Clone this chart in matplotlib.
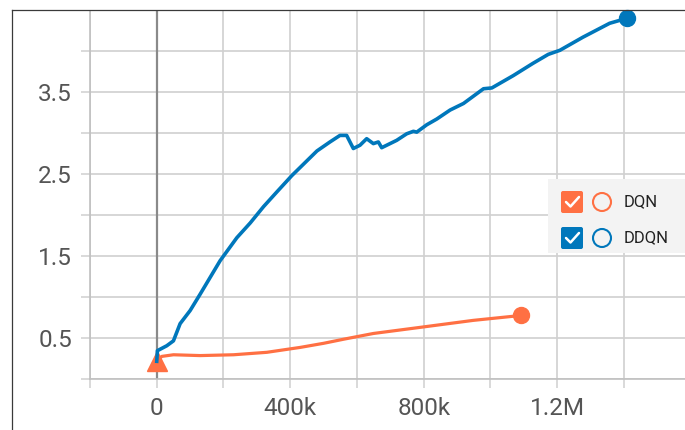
import matplotlib
matplotlib.use("Agg")
import matplotlib.pyplot as plt
import numpy as np
from matplotlib.patches import Rectangle, FancyBboxPatch, Circle

plt.rcParams['font.family'] = ['Roboto', 'DejaVu Sans']

# DDQN run (step, value)
ddqn_steps = [0, 2e3, 30e3, 50e3, 70e3, 100e3, 130e3, 190e3, 240e3, 280e3, 320e3,
              360e3, 405e3, 430e3, 480e3, 519e3, 549e3, 569e3, 589e3, 609e3, 629e3,
              649e3, 664e3, 674e3, 699e3, 719e3, 749e3, 769e3, 779e3, 809e3, 839e3,
              879e3, 919e3, 979e3, 1004e3, 1068e3, 1127e3, 1173e3, 1208e3, 1277e3,
              1357e3, 1408e3]
ddqn_vals = [0.21, 0.34, 0.40, 0.46, 0.67, 0.83, 1.03, 1.44, 1.72, 1.90, 2.10,
             2.28, 2.48, 2.58, 2.78, 2.89, 2.97, 2.97, 2.81, 2.85, 2.93,
             2.87, 2.89, 2.82, 2.87, 2.91, 2.99, 3.02, 3.01, 3.10, 3.17,
             3.28, 3.36, 3.54, 3.55, 3.70, 3.85, 3.96, 4.01, 4.17,
             4.34, 4.40]

# DQN run (step, value)
dqn_steps = [0, 15e3, 50e3, 130e3, 230e3, 330e3, 430e3, 500e3, 560e3, 649e3,
             799e3, 948e3, 1091e3]
dqn_vals = [0.21, 0.27, 0.29, 0.28, 0.29, 0.32, 0.38, 0.43, 0.48, 0.55,
            0.63, 0.71, 0.77]

x_ticks = [-200e3, 0, 200e3, 400e3, 600e3, 800e3, 1000e3, 1200e3, 1400e3]
x_labels = ["", "0", "", "400k", "", "800k", "", "1.2M", ""]
y_ticks = [0, 0.5, 1.0, 1.5, 2.0, 2.5, 3.0, 3.5, 4.0]
y_labels = ["", "0.5", "", "1.5", "", "2.5", "", "3.5", ""]

series_names = ["DQN", "DDQN"]
ORANGE = '#ff7043'
BLUE = '#0077bb'
GRID = '#d0d0d0'

W, H = 685, 430
fig = plt.figure(figsize=(W / 100, H / 100), dpi=100)
fig.patch.set_facecolor('white')

ax = fig.add_axes([90 / W, (H - 378.5) / H, (W - 90) / W, (378.5 - 11) / H])
ax.set_xlim(-200e3, 1582.8e3)
ax.set_ylim(0, 4.49)

ax.set_xticks(x_ticks)
ax.set_xticklabels(x_labels)
ax.set_yticks(y_ticks)
ax.set_yticklabels(y_labels)
ax.grid(True, color=GRID, linewidth=1.2, zorder=0)
ax.tick_params(axis='both', length=6.5, width=1.1, color=GRID,
               labelsize=17.5, labelcolor='#555555')
ax.tick_params(axis='x', pad=7)
ax.tick_params(axis='y', pad=6.5)
for s in ['top', 'right']:
    ax.spines[s].set_visible(False)
for s in ['left', 'bottom']:
    ax.spines[s].set_color('#c0c0c0')
    ax.spines[s].set_linewidth(1.2)

# darker zero line
ax.axvline(0, color='#8a8a8a', linewidth=1.6, zorder=2)

ax.plot(dqn_steps, dqn_vals, color=ORANGE, linewidth=2.3, zorder=3)
ax.plot(dqn_steps[:1], dqn_vals[:1], marker='^', markersize=14.5, color=ORANGE,
        linestyle='none', zorder=3)
ax.plot(dqn_steps[-1:], dqn_vals[-1:], marker='o', markersize=11.5, color=ORANGE,
        linestyle='none', zorder=3)

ax.plot(ddqn_steps, ddqn_vals, color=BLUE, linewidth=2.6, zorder=4,
        solid_joinstyle='round')
ax.plot(ddqn_steps[-1:], ddqn_vals[-1:], marker='o', markersize=11.5, color=BLUE,
        linestyle='none', zorder=4, clip_on=False)

# overlay in pixel coordinates: screenshot frame and legend widget
ov = fig.add_axes([0, 0, 1, 1])
ov.set_xlim(0, W)
ov.set_ylim(H, 0)
ov.axis('off')

ov.plot([12, 12], [10, H], color='#3a3a3a', linewidth=0.9)
ov.plot([12, W], [10, 10], color='#3a3a3a', linewidth=0.9)

ov.add_patch(Rectangle((548, 179), 140, 74, facecolor='#f3f3f3', edgecolor='none'))
for i, (name, col) in enumerate(zip(series_names, [ORANGE, BLUE])):
    cy = 202 + i * 36
    ov.add_patch(FancyBboxPatch((561, cy - 11), 22, 22,
                                boxstyle="round,pad=0,rounding_size=2",
                                facecolor=col, edgecolor='none'))
    ov.plot([566, 570.5, 579], [cy, cy + 4.5, cy - 5], color='white',
            linewidth=1.8, solid_capstyle='round')
    ov.add_patch(Circle((602, cy), 9, fill=False, edgecolor=col, linewidth=1.5))
    ov.text(624, cy, name, va='center', ha='left', fontsize=12, color='#222222')

fig.savefig('out.png', dpi=100)
